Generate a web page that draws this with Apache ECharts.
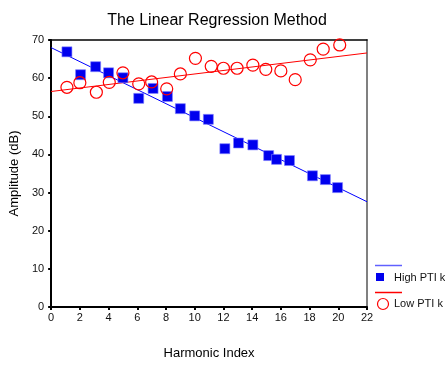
<!DOCTYPE html>
<html>
<head>
<meta charset="utf-8">
<script src="https://cdn.jsdelivr.net/npm/echarts@6/dist/echarts.min.js"></script>
<style>html,body{margin:0;padding:0;background:#fff}#c{width:445px;height:365px}</style>
</head>
<body>
<div id="c"></div>
<script>
var highX = [1.1, 2.05, 3.1, 4.0, 5.0, 6.1, 7.1, 8.1, 9.0, 10.0, 10.95, 12.1, 13.05, 14.05, 15.15, 15.7, 16.6, 18.2, 19.1, 19.95];
var highY = [66.9, 60.9, 63.0, 61.4, 60.1, 54.7, 57.3, 55.2, 52.0, 50.1, 49.2, 41.5, 43.0, 42.5, 39.7, 38.7, 38.4, 34.4, 33.4, 31.3];
var lowX = [1.1, 2.0, 3.15, 4.05, 5.0, 6.1, 7.0, 8.05, 9.0, 10.05, 11.15, 12.0, 12.95, 14.05, 14.95, 16.0, 17.0, 18.05, 18.95, 20.1];
var lowY = [57.6, 58.8, 56.3, 58.9, 61.4, 58.5, 59.0, 57.2, 61.1, 65.2, 63.1, 62.6, 62.6, 63.4, 62.3, 61.9, 59.6, 64.8, 67.6, 68.7];
var highFitX = [0, 22];
var highFitY = [68.0, 27.6];
var lowFitX = [0, 22];
var lowFitY = [56.5, 66.6];
var xTicks = [0, 2, 4, 6, 8, 10, 12, 14, 16, 18, 20, 22];
var yTicks = [0, 10, 20, 30, 40, 50, 60, 70];

function zip(a, b) { return a.map(function (v, i) { return [v, b[i]]; }); }

var chart = echarts.init(document.getElementById('c'), null, {renderer: 'canvas'});
var font = 'Liberation Sans, Arial, sans-serif';
chart.setOption({
  animation: false,
  backgroundColor: '#fff',
  title: {
    text: 'The Linear Regression Method',
    left: 212, top: 8, textAlign: 'center',
    textStyle: {fontFamily: font, fontSize: 16, fontWeight: 'normal', color: '#000'}
  },
  grid: {left: 48, top: 40, right: 78, bottom: 54},
  xAxis: [{
    type: 'value', min: xTicks[0], max: xTicks[xTicks.length - 1], interval: 2,
    name: 'Harmonic Index', nameLocation: 'middle', nameGap: 40,
    nameTextStyle: {fontFamily: font, fontSize: 13, color: '#000'},
    axisLine: {show: true, lineStyle: {color: '#000', width: 2}},
    axisTick: {show: true, length: 3, lineStyle: {color: '#000', width: 2}},
    axisLabel: {fontFamily: font, fontSize: 11, color: '#111', margin: 5},
    splitLine: {show: false}
  }, {
    type: 'value', position: 'top', min: 0, max: 22,
    axisLine: {show: true, onZero: false, lineStyle: {color: '#000', width: 1.5}},
    axisTick: {show: false}, axisLabel: {show: false}, splitLine: {show: false}
  }],
  yAxis: [{
    type: 'value', min: yTicks[0], max: yTicks[yTicks.length - 1], interval: 10,
    name: 'Amplitude (dB)', nameLocation: 'middle', nameGap: 27,
    nameTextStyle: {fontFamily: font, fontSize: 13, color: '#000'},
    axisLine: {show: true, lineStyle: {color: '#000', width: 2}},
    axisTick: {show: true, length: 3, lineStyle: {color: '#000', width: 2}},
    axisLabel: {fontFamily: font, fontSize: 11, color: '#111', margin: 7},
    splitLine: {show: false}
  }, {
    type: 'value', position: 'right', min: 0, max: 70,
    axisLine: {show: true, onZero: false, lineStyle: {color: '#808080', width: 2}},
    axisTick: {show: false}, axisLabel: {show: false}, splitLine: {show: false}
  }],
  series: [{
    name: 'High fit', type: 'line', data: zip(highFitX, highFitY),
    symbol: 'none', lineStyle: {color: '#0000ff', width: 1}, z: 2
  }, {
    name: 'Low fit', type: 'line', data: zip(lowFitX, lowFitY),
    symbol: 'none', lineStyle: {color: '#ff0000', width: 1}, z: 2
  }, {
    name: 'High PTI k', type: 'scatter', data: zip(highX, highY),
    symbol: 'rect', symbolSize: 10,
    itemStyle: {color: '#0000ee', borderColor: '#8080ff', borderWidth: 0.6, opacity: 1}, z: 3
  }, {
    name: 'Low PTI k', type: 'scatter', data: zip(lowX, lowY),
    symbol: 'circle', symbolSize: 12,
    itemStyle: {color: 'rgba(255,255,255,0)', borderColor: '#ff0000', borderWidth: 1.2, opacity: 1}, z: 4
  }],
  graphic: [
    {type: 'line', shape: {x1: 375, y1: 265.5, x2: 402, y2: 265.5}, style: {stroke: '#6060ff', lineWidth: 1.5}},
    {type: 'rect', shape: {x: 376, y: 273, width: 8, height: 8}, style: {fill: '#0000ee'}},
    {type: 'text', left: 394, top: 272, style: {text: 'High PTI k', fontFamily: font, fontSize: 11, fill: '#111'}},
    {type: 'line', shape: {x1: 375, y1: 292.5, x2: 402, y2: 292.5}, style: {stroke: '#ff0000', lineWidth: 1.5}},
    {type: 'circle', shape: {cx: 383, cy: 304, r: 5.5}, style: {fill: 'none', stroke: '#ff0000', lineWidth: 1.2}},
    {type: 'text', left: 394, top: 298, style: {text: 'Low PTI k', fontFamily: font, fontSize: 11, fill: '#111'}}
  ]
});
</script>
</body>
</html>
